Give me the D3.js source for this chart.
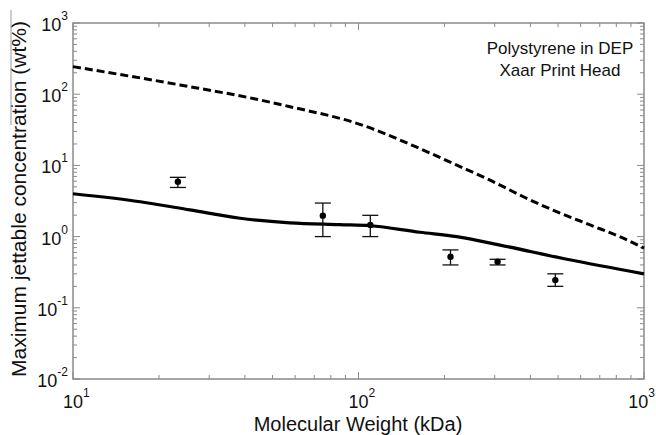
<!DOCTYPE html>
<html><head><meta charset="utf-8">
<script src="https://cdn.jsdelivr.net/npm/d3@7"></script>
<style>body{margin:0;background:#fff}svg{display:block}text{font-family:"Liberation Sans",Arial,sans-serif}</style>
</head><body><div id="chart"></div>
<script>
// Data
const pointMw   = [23.3, 75, 110, 210, 307, 489];
const pointConc = [5.9, 1.97, 1.46, 0.52, 0.445, 0.245];
const pointHigh = [6.8, 2.96, 1.99, 0.65, 0.48, 0.30];
const pointLow  = [4.9, 1.0, 1.0, 0.40, 0.40, 0.20];

const solidMw   = [10, 17.2, 25.7, 38.5, 57.5, 86, 110, 164, 221, 313, 537, 1000];
const solidConc = [4.0, 3.09, 2.37, 1.81, 1.56, 1.47, 1.42, 1.15, 1.0, 0.76, 0.48, 0.30];

const dashMw    = [10, 23.7, 45.2, 57.5, 98.6, 168.7, 221, 289, 378, 494, 647, 846, 1000];
const dashConc  = [244, 135, 83, 66.8, 39, 16.4, 10.1, 6.2, 3.63, 2.24, 1.46, 0.95, 0.69];

const xTickExps = [1, 2, 3];
const yTickExps = [-2, -1, 0, 1, 2, 3];
const annotation = ["Polystyrene in DEP", "Xaar Print Head"];
const xTitle = "Molecular Weight (kDa)";
const yTitle = "Maximum jettable concentration (wt%)";

const W = 656, H = 435;
const m = {left: 73, right: 644, top: 23, bottom: 379};
const svg = d3.select("#chart").append("svg").attr("width", W).attr("height", H);

const x = d3.scaleLog().domain([10, 1000]).range([m.left, m.right]);
const y = d3.scaleLog().domain([0.01, 1000]).range([m.bottom, m.top]);

const frameColor = "#8a8a8a";
const xMinor = [], yMinor = [];
for (let e = 1; e < 3; e++) for (let k = 2; k <= 9; k++) xMinor.push(k * Math.pow(10, e));
for (let e = -2; e < 3; e++) for (let k = 2; k <= 9; k++) yMinor.push(k * Math.pow(10, e));
const g = svg.append("g");
const tickG = g.append("g").attr("stroke", frameColor).attr("stroke-width", 1);
xMinor.forEach(v => {
  tickG.append("line").attr("x1", x(v)).attr("x2", x(v)).attr("y1", m.bottom).attr("y2", m.bottom - 4);
  tickG.append("line").attr("x1", x(v)).attr("x2", x(v)).attr("y1", m.top).attr("y2", m.top + 4);
});
xTickExps.forEach(e => {
  const v = Math.pow(10, e);
  tickG.append("line").attr("x1", x(v)).attr("x2", x(v)).attr("y1", m.bottom).attr("y2", m.bottom - 7);
  tickG.append("line").attr("x1", x(v)).attr("x2", x(v)).attr("y1", m.top).attr("y2", m.top + 7);
});
yMinor.forEach(v => {
  tickG.append("line").attr("y1", y(v)).attr("y2", y(v)).attr("x1", m.left).attr("x2", m.left + 4);
  tickG.append("line").attr("y1", y(v)).attr("y2", y(v)).attr("x1", m.right).attr("x2", m.right - 4);
});
yTickExps.forEach(e => {
  const v = Math.pow(10, e);
  tickG.append("line").attr("y1", y(v)).attr("y2", y(v)).attr("x1", m.left).attr("x2", m.left + 7);
  tickG.append("line").attr("y1", y(v)).attr("y2", y(v)).attr("x1", m.right).attr("x2", m.right - 7);
});
g.append("rect").attr("x", m.left).attr("y", m.top).attr("width", m.right - m.left).attr("height", m.bottom - m.top)
  .attr("fill", "none").attr("stroke", frameColor).attr("stroke-width", 1.5);

// tick labels
yTickExps.forEach(e => {
  const t = svg.append("text").attr("x", 68).attr("y", y(Math.pow(10, e)) + 8)
    .attr("text-anchor", "end").attr("font-size", 18).attr("fill", "#111");
  t.append("tspan").text("10");
  t.append("tspan").attr("font-size", 12).attr("dy", -11).text(e);
});
xTickExps.forEach((e, i) => {
  const last = i === xTickExps.length - 1;
  const t = svg.append("text").attr("x", last ? 655 : x(Math.pow(10, e)) - 10).attr("y", 408)
    .attr("text-anchor", last ? "end" : "start").attr("font-size", 18).attr("fill", "#111");
  t.append("tspan").text("10");
  t.append("tspan").attr("font-size", 12).attr("dy", -11).text(e);
});

// titles
svg.append("text").attr("x", 358).attr("y", 431).attr("text-anchor", "middle")
  .attr("font-size", 20).attr("fill", "#111").text(xTitle);
svg.append("text").attr("transform", "translate(26,199) rotate(-90)").attr("text-anchor", "middle")
  .attr("font-size", 21).attr("fill", "#111").text(yTitle);
svg.append("line").attr("x1", 11).attr("x2", 11).attr("y1", 10).attr("y2", 125)
  .attr("stroke", "#999").attr("stroke-width", 1);

// annotation
annotation.forEach((s, i) => {
  svg.append("text").attr("x", 560).attr("y", 54 + i * 22).attr("text-anchor", "middle")
    .attr("font-size", 17).attr("fill", "#111").text(s);
});

// lines
const line = d3.line().x(d => x(d[0])).y(d => y(d[1])).curve(d3.curveMonotoneX);
svg.append("path").datum(dashMw.map((v, i) => [v, dashConc[i]])).attr("d", line)
  .attr("fill", "none").attr("stroke", "#000").attr("stroke-width", 3).attr("stroke-dasharray", "8,4");
svg.append("path").datum(solidMw.map((v, i) => [v, solidConc[i]])).attr("d", line)
  .attr("fill", "none").attr("stroke", "#000").attr("stroke-width", 3.2);

// error bars
const eb = svg.append("g").attr("stroke", "#111").attr("stroke-width", 1.3);
pointMw.forEach((v, i) => {
  const cx = x(v);
  eb.append("line").attr("x1", cx).attr("x2", cx).attr("y1", y(pointHigh[i])).attr("y2", y(pointLow[i]));
  eb.append("line").attr("x1", cx - 8).attr("x2", cx + 8).attr("y1", y(pointHigh[i])).attr("y2", y(pointHigh[i]));
  eb.append("line").attr("x1", cx - 8).attr("x2", cx + 8).attr("y1", y(pointLow[i])).attr("y2", y(pointLow[i]));
  svg.append("circle").attr("cx", cx).attr("cy", y(pointConc[i])).attr("r", 3.2).attr("fill", "#000");
});
</script></body></html>
